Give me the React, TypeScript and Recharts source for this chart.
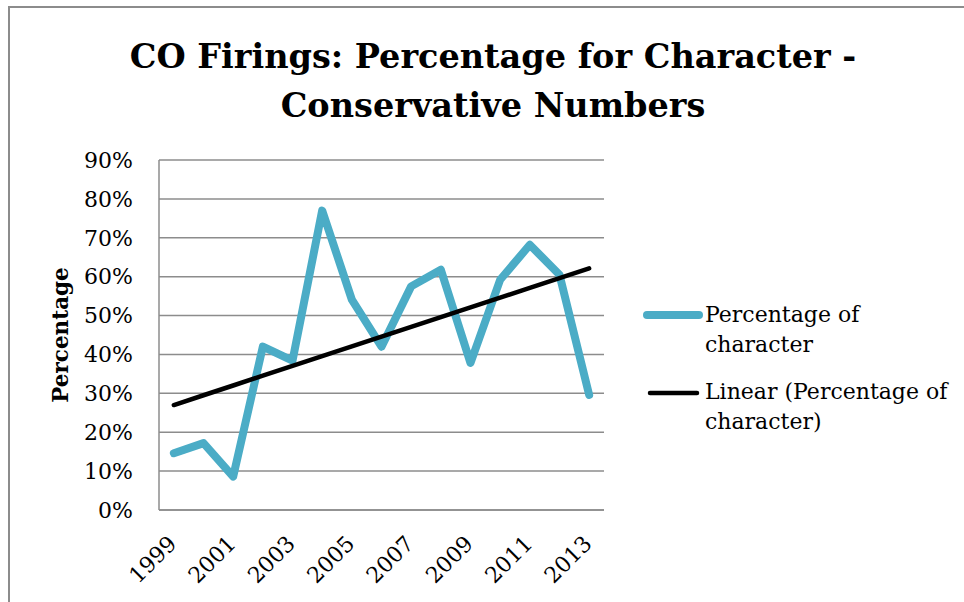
import React from 'react';
import { LineChart, Line, XAxis, YAxis, CartesianGrid, Legend } from 'recharts';

const years = ['1999', '2000', '2001', '2002', '2003', '2004', '2005', '2006', '2007', '2008', '2009', '2010', '2011', '2012', '2013'];
const percentageOfCharacter = [0.146, 0.172, 0.086, 0.42, 0.384, 0.77, 0.541, 0.42, 0.575, 0.618, 0.378, 0.592, 0.682, 0.605, 0.296];
const percentTicks = [0, 0.1, 0.2, 0.3, 0.4, 0.5, 0.6, 0.7, 0.8, 0.9];

const SERIES_NAME = 'Percentage of character';
const TREND_NAME = 'Linear (Percentage of character)';

const SERIES_COLOR = '#4BACC6';
const TREND_COLOR = '#000000';
const GRID_COLOR = '#8c8c8c';
const FONT = '"DejaVu Serif", serif';

// Ordinary least-squares fit against the category index (Excel "Linear" trendline)
const n = percentageOfCharacter.length;
const meanX = (n - 1) / 2;
const meanY = percentageOfCharacter.reduce((s, v) => s + v, 0) / n;
let sxy = 0;
let sxx = 0;
percentageOfCharacter.forEach((v, i) => {
  sxy += (i - meanX) * (v - meanY);
  sxx += (i - meanX) * (i - meanX);
});
const slope = sxy / sxx;
const intercept = meanY - slope * meanX;

const data = years.map((year, i) => ({
  year,
  pct: percentageOfCharacter[i],
  trend: intercept + slope * i,
}));

const legendOrder = ['pct', 'trend'];

const YearTick = (props: any) => {
  const { x, y, payload } = props;
  return (
    <text
      transform={`translate(${x + 4},${y + 35}) rotate(-45)`}
      textAnchor="end"
      fontFamily={FONT}
      fontSize={22}
      fill="#000"
    >
      {payload.value}
    </text>
  );
};

const LegendContent = (props: any) => {
  const items = [...(props.payload || [])].sort(
    (a: any, b: any) => legendOrder.indexOf(a.dataKey) - legendOrder.indexOf(b.dataKey)
  );
  return (
    <div style={{ fontFamily: FONT, fontSize: 22, lineHeight: '30px', color: '#000' }}>
      {items.map((item: any, idx: number) => {
        const isSeries = item.dataKey === 'pct';
        const sw = isSeries ? 8 : 4.5;
        return (
          <div key={idx} style={{ display: 'flex', alignItems: 'flex-start', marginBottom: idx === 0 ? 17 : 0 }}>
            <svg width={65} height={30} style={{ flex: '0 0 65px' }}>
              <line
                x1={isSeries ? 7 : 10}
                x2={isSeries ? 59 : 57}
                y1={idx === 0 ? 15 : 16}
                y2={idx === 0 ? 15 : 16}
                stroke={item.color}
                strokeWidth={sw}
                strokeLinecap="round"
              />
            </svg>
            <div style={{ width: 252 }}>{item.value}</div>
          </div>
        );
      })}
    </div>
  );
};

export default function App() {
  return (
    <div style={{ position: 'absolute', left: 0, top: 0, width: 964, height: 602, background: '#fff', overflow: 'hidden' }}>
      <div
        style={{
          position: 'absolute',
          left: 8,
          top: 6,
          width: 964,
          height: 602,
          borderTop: `2px solid ${GRID_COLOR}`,
          borderLeft: `2px solid ${GRID_COLOR}`,
        }}
      />
      <div style={{ position: 'absolute', left: 0, top: 0 }}>
        <LineChart width={964} height={602} data={data} margin={{ top: 160, right: 360, bottom: 0, left: 0 }}>
          <CartesianGrid vertical={false} stroke={GRID_COLOR} strokeWidth={1.5} />
          <XAxis
            dataKey="year"
            height={92}
            interval={1}
            padding={{ left: 14.85, right: 14.85 }}
            tickSize={0}
            tickMargin={0}
            axisLine={{ stroke: GRID_COLOR, strokeWidth: 1.5 }}
            tickLine={false}
            tick={<YearTick />}
          />
          <YAxis
            width={159}
            domain={[0, 0.9]}
            ticks={percentTicks}
            tickSize={0}
            tickMargin={26}
            tickLine={false}
            axisLine={{ stroke: GRID_COLOR, strokeWidth: 1.5 }}
            tickFormatter={(v: number) => `${Math.round(v * 100)}%`}
            tick={{ fontFamily: FONT, fontSize: 22, fill: '#000' }}
          />
          <Line
            type="linear"
            dataKey="pct"
            name={SERIES_NAME}
            stroke={SERIES_COLOR}
            strokeWidth={8}
            strokeLinejoin="round"
            strokeLinecap="round"
            dot={false}
            activeDot={false}
            isAnimationActive={false}
          />
          <Line
            type="linear"
            dataKey="trend"
            name={TREND_NAME}
            stroke={TREND_COLOR}
            strokeWidth={4.5}
            strokeLinecap="round"
            dot={false}
            activeDot={false}
            isAnimationActive={false}
          />
          <Legend
            layout="horizontal"
            verticalAlign="middle"
            align="center"
            content={<LegendContent />}
            wrapperStyle={{ position: 'absolute', left: 640, top: 300, width: 320 }}
          />
        </LineChart>
      </div>
      <svg width={964} height={602} style={{ position: 'absolute', left: 0, top: 0, pointerEvents: 'none' }}>
        <text x={493} y={68} textAnchor="middle" fontFamily={FONT} fontWeight="bold" fontSize={33.5} fill="#000">
          CO Firings: Percentage for Character -
        </text>
        <text x={493} y={117} textAnchor="middle" fontFamily={FONT} fontWeight="bold" fontSize={33.5} fill="#000">
          Conservative Numbers
        </text>
        <text
          transform="translate(60,335) rotate(-90)"
          textAnchor="middle"
          dominantBaseline="central"
          fontFamily={FONT}
          fontWeight="bold"
          fontSize={21.5}
          fill="#000"
        >
          Percentage
        </text>
      </svg>
    </div>
  );
}
